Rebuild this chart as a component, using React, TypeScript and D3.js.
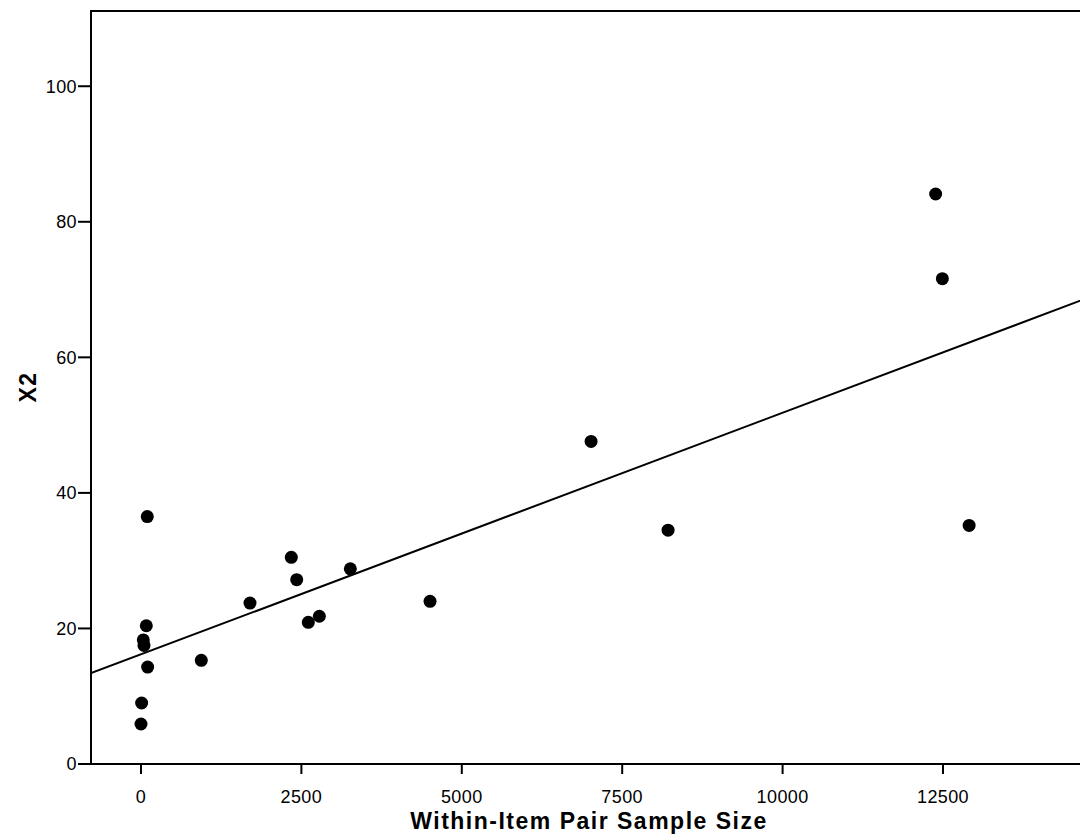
import React from 'react';
import * as d3 from 'd3';

// Sample size vs X2 values
const sampleSize = [98, 83, 36, 47, 104, 10, 0, 940, 1699, 2343, 2427, 2608, 2780, 3263, 4505, 7015, 8215, 12385, 12490, 12907];
const chiSquare = [36.5, 20.4, 18.3, 17.5, 14.3, 9.0, 5.9, 15.3, 23.75, 30.5, 27.2, 20.9, 21.8, 28.8, 24.0, 47.6, 34.5, 84.1, 71.6, 35.2];
const xTicks = [0, 2500, 5000, 7500, 10000, 12500];
const yTicks = [0, 20, 40, 60, 80, 100];

const xLabel = 'Within-Item Pair Sample Size';
const yLabel = 'X2';

const W = 1080;
const H = 840;
const margin = { top: 11, right: -5, bottom: 76, left: 91 };
const font = 'Arial, "Liberation Sans", sans-serif';

// least squares fit line
const fitLine = (xs: number[], ys: number[]) => {
    const mx = d3.mean(xs) as number;
    const my = d3.mean(ys) as number;
    let sxy = 0, sxx = 0;
    xs.forEach((x, i) => {
        sxy += (x - mx) * (ys[i] - my);
        sxx += (x - mx) * (x - mx);
    });
    const b = sxy / sxx;
    return { a: my - b * mx, b };
};

const App = () => {
    const x = d3.scaleLinear()
        .domain([-779, 14713])
        .range([margin.left, W - margin.right]);
    const y = d3.scaleLinear()
        .domain([0, 111.1])
        .range([H - margin.bottom, margin.top]);

    const fit = fitLine(sampleSize, chiSquare);
    const [x0, x1] = x.domain();
    const line = d3.line<number>()
        .x(d => x(d))
        .y(d => y(fit.a + fit.b * d));

    const bottom = H - margin.bottom;

    return (
        <svg width={W} height={H} style={{ position: 'absolute', left: 0, top: 0, background: '#fff' }}>
            <defs>
                <clipPath id="plot">
                    <rect x={margin.left} y={margin.top} width={W - margin.left - margin.right} height={bottom - margin.top} />
                </clipPath>
            </defs>

            {/* frame */}
            <rect x={margin.left} y={margin.top} width={W - margin.left - margin.right} height={bottom - margin.top}
                fill="none" stroke="#000" strokeWidth={2} />

            {/* y axis */}
            {yTicks.map(t => (
                <g key={'y' + t}>
                    <line x1={margin.left - 13} x2={margin.left} y1={y(t)} y2={y(t)} stroke="#000" strokeWidth={2} />
                    <text x={margin.left - 14} y={y(t)} dy="0.36em" textAnchor="end"
                        fontFamily={font} fontSize={18} letterSpacing={0.4}>{t}</text>
                </g>
            ))}

            {/* x axis */}
            {xTicks.map(t => (
                <g key={'x' + t}>
                    <line x1={x(t)} x2={x(t)} y1={bottom} y2={bottom + 10} stroke="#000" strokeWidth={2} />
                    <text x={x(t)} y={bottom + 39} textAnchor="middle"
                        fontFamily={font} fontSize={18} letterSpacing={0.4}>{t}</text>
                </g>
            ))}

            <text x={589} y={829} textAnchor="middle" fontFamily={font} fontSize={23}
                fontWeight="bold" letterSpacing={1.5}>{xLabel}</text>
            <text transform={`translate(36, ${387}) rotate(-90)`} textAnchor="middle" fontFamily={font}
                fontSize={23} fontWeight="bold" letterSpacing={1.5}>{yLabel}</text>

            <g clipPath="url(#plot)">
                <path d={line([x0, x1]) as string} fill="none" stroke="#000" strokeWidth={2} />
                {sampleSize.map((s, i) => (
                    <circle key={i} cx={x(s)} cy={y(chiSquare[i])} r={6.5} fill="#000" />
                ))}
            </g>
        </svg>
    );
};

export default App;
